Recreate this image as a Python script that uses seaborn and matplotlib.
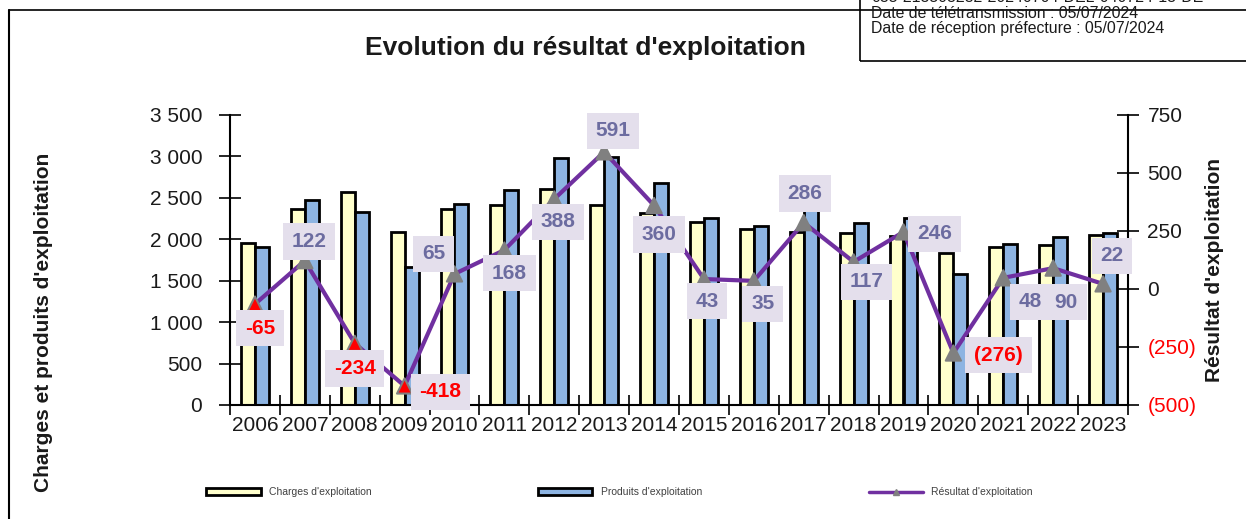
import matplotlib
matplotlib.use('Agg')
import matplotlib.pyplot as plt
import seaborn as sns
import numpy as np
import pandas as pd
from matplotlib.patches import Patch, Rectangle
from matplotlib.lines import Line2D

years = [2006, 2007, 2008, 2009, 2010, 2011, 2012, 2013, 2014,
         2015, 2016, 2017, 2018, 2019, 2020, 2021, 2022, 2023]
charges = [1960, 2365, 2565, 2085, 2365, 2410, 2605, 2410, 2320,
           2210, 2120, 2090, 2070, 2040, 1840, 1905, 1930, 2055]
produits = [1905, 2475, 2335, 1670, 2425, 2590, 2985, 2995, 2675,
            2255, 2160, 2420, 2195, 2255, 1580, 1945, 2030, 2070]
resultat = [-65, 122, -234, -418, 65, 168, 388, 591, 360,
            43, 35, 286, 117, 246, -276, 48, 90, 22]
resultat_labels = ['-65', '122', '-234', '-418', '65', '168', '388', '591', '360',
                   '43', '35', '286', '117', '246', '(276)', '48', '90', '22']
red_marker_years = [2006, 2008, 2009]

left_ticks = [0, 500, 1000, 1500, 2000, 2500, 3000, 3500]
right_ticks = [-500, -250, 0, 250, 500, 750]

# label offsets in pixels (dx, dy) relative to each point
label_offsets = [(5, -24), (4, 19), (0, -25), (36, -6), (-21, 20), (5, -23),
                 (4, -23), (9, 21), (5, -29), (3, -22), (9, -23), (1, 29),
                 (13, -20), (31, -2), (45, -2), (27, -24), (13, -34), (9, 28)]

sns.set_theme(style='white')
plt.rcParams['font.family'] = ['Liberation Sans', 'DejaVu Sans']

fig = plt.figure(figsize=(12.46, 5.19), dpi=100)
ax = fig.add_axes([230 / 1246, 114 / 519, 898 / 1246, 290 / 519])

df = pd.DataFrame({
    'annee': [str(y) for y in years] * 2,
    'valeur': charges + produits,
    'serie': ["Charges d'exploitation"] * len(years) + ["Produits d'exploitation"] * len(years),
})
sns.barplot(data=df, x='annee', y='valeur', hue='serie', ax=ax,
            palette=['#ffffcc', '#8db4e2'], saturation=1, edgecolor='black', linewidth=2,
            width=0.56, gap=0, legend=False)

n = len(years)
ax.set_xlim(-0.5, n - 0.5)
ax.set_ylim(0, 3500)
ax.set_yticks(left_ticks)
ax.set_yticklabels([f'{v:,}'.replace(',', ' ') for v in left_ticks], fontsize=15, color='#1a1a1a')
ax.set_xticks(np.arange(n))
ax.set_xticklabels([str(y) for y in years], fontsize=15, color='#1a1a1a')
ax.set_xticks(np.arange(-0.5, n, 1), minor=True)
ax.tick_params(axis='x', which='major', length=0, pad=8)
ax.tick_params(axis='x', which='minor', length=14, width=1.2, direction='inout', color='black', bottom=True)
ax.tick_params(axis='y', length=16, width=1.2, direction='inout', color='black', left=True, pad=12)
ax.set_xlabel('')
ax.set_ylabel('')
for s in ['left', 'bottom']:
    ax.spines[s].set_color('black')
    ax.spines[s].set_linewidth(1.5)
ax.spines['top'].set_visible(False)
ax.spines['right'].set_visible(False)

ax2 = ax.twinx()
x = np.arange(n)
sns.lineplot(x=x, y=resultat, ax=ax2, color='#7030a0', linewidth=3, zorder=3)
fills = ['#ff0000' if y in red_marker_years else '#808080' for y in years]
ax2.scatter(x, resultat, marker='^', s=120, c=fills, edgecolors='#808080', linewidths=1.5, zorder=4)
ax2.set_ylim(-500, 750)
ax2.set_yticks(right_ticks)
ax2.set_yticklabels([f'({-v})' if v < 0 else str(v) for v in right_ticks], fontsize=15)
for lab, v in zip(ax2.get_yticklabels(), right_ticks):
    lab.set_color('#ff0000' if v < 0 else '#1a1a1a')
ax2.tick_params(axis='y', length=16, width=1.2, direction='inout', color='black', right=True, pad=6)
ax2.set_ylabel('')
for s in ['top', 'left', 'bottom']:
    ax2.spines[s].set_visible(False)
ax2.spines['right'].set_color('black')
ax2.spines['right'].set_linewidth(1.5)
ax2.grid(False)

for i, (v, txt) in enumerate(zip(resultat, resultat_labels)):
    dx, dy = label_offsets[i]
    col = '#ff0000' if v < 0 else '#6c6ca0'
    ax2.annotate(txt, (i, v), xytext=(dx, dy), textcoords='offset pixels',
                 ha='center', va='center', fontsize=15, fontweight='bold', color=col,
                 bbox=dict(boxstyle='square,pad=0.42', fc='#e4dfec', ec='none'), zorder=6)

fig.text(585 / 1246, 1 - 48 / 519, "Evolution du résultat d'exploitation",
         ha='center', va='center', fontsize=19, fontweight='bold', color='#1a1a1a')
fig.text(44 / 1246, 1 - 322 / 519, "Charges et produits d'exploitation", rotation=90,
         ha='center', va='center', fontsize=15, fontweight='bold', color='#1a1a1a')
fig.text(1215 / 1246, 1 - 270 / 519, "Résultat d'exploitation", rotation=90,
         ha='center', va='center', fontsize=15, fontweight='bold', color='#1a1a1a')

handles = [
    Patch(facecolor='#ffffcc', edgecolor='black', linewidth=2),
    Patch(facecolor='#8db4e2', edgecolor='black', linewidth=2),
    Line2D([], [], color='#7030a0', linewidth=2.5, marker='^', markersize=5,
           markerfacecolor='#808080', markeredgecolor='#808080'),
]
fig.legend(handles, ["Charges d'exploitation", "Produits d'exploitation", "Résultat d'exploitation"],
           loc='center', bbox_to_anchor=(197 / 1246, 1 - 500 / 519, 845 / 1246, 16 / 519),
           mode='expand', ncol=3, frameon=False, fontsize=7.5, handlelength=5.2,
           handleheight=0.6, labelcolor='#404040')

# document frame and stamp box
fig.add_artist(Line2D([9 / 1246, 9 / 1246], [0, 1 - 10 / 519], transform=fig.transFigure, color='black', linewidth=1.5))
fig.add_artist(Line2D([9 / 1246, 1], [1 - 10 / 519, 1 - 10 / 519], transform=fig.transFigure, color='black', linewidth=1.2))
fig.add_artist(Rectangle((860 / 1246, 1 - 61 / 519), 400 / 1246, 80 / 519, transform=fig.transFigure,
                         fill=False, edgecolor='black', linewidth=1.2))
stamp = ['035-213503282-20240704-DEL-040724-13-DE',
         'Date de télétransmission : 05/07/2024',
         'Date de réception préfecture : 05/07/2024']
for k, line in enumerate(stamp):
    fig.text(871 / 1246, 1 - (-2 + 15.5 * k) / 519, line, ha='left', va='center',
             fontsize=11.4, color='#1a1a1a')

fig.savefig('out.png', dpi=100)
